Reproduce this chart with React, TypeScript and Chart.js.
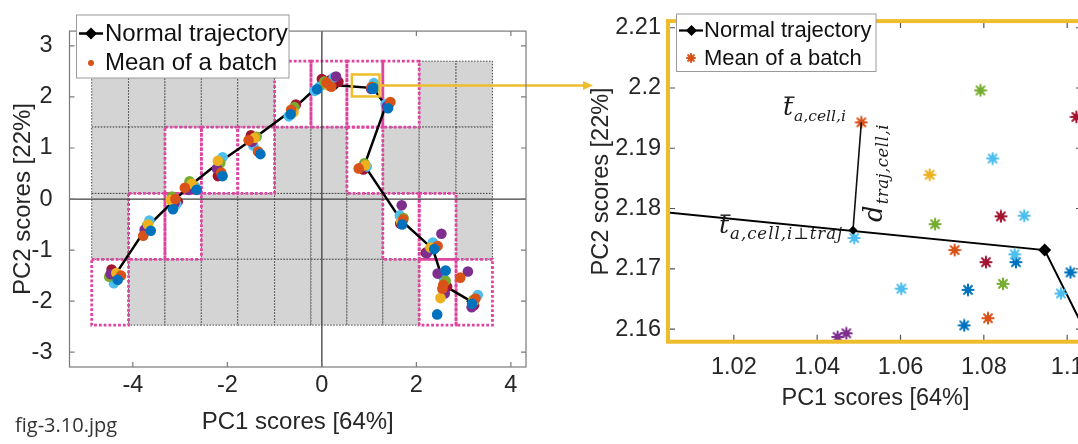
import React, { useEffect, useRef } from "react";
import { Chart, registerables } from "chart.js";

Chart.register(...registerables);

// ---------------- data ----------------
const mainXRange = [-5.34, 4.32];
const mainYRange = [-3.29, 3.29];
const mainXTicks = [-4, -2, 0, 2, 4];
const mainYTicks = [-3, -2, -1, 0, 1, 2, 3];

const zoomXRange = [1.0042, 1.1038];
const zoomYRange = [2.1579, 2.2111];
const zoomXTicks = [1.02, 1.04, 1.06, 1.08, 1.1];
const zoomYTicks = [2.16, 2.17, 2.18, 2.19, 2.2, 2.21];

// cell grid of the PC1/PC2 plane
const cellEdgesX = [-4.87, -4.09, -3.32, -2.55, -1.78, -1.0, -0.23, 0.53, 1.29, 2.06, 2.84, 3.61];
const cellEdgesY = [2.7, 1.41, 0.11, -1.18, -2.47];
const visitedCells = ["00000111100", "00111001000", "01100000110", "10000000011"];

// zoom window drawn on the left plot
const zoomBoxX = [0.635, 1.22];
const zoomBoxY = [2.01, 2.44];

// normal trajectory nodes [PC1, PC2]
const trajectoryNodes = [
  [-4.35, -1.45], [-3.7, -0.55], [-3.12, -0.02], [-2.78, 0.27], [-2.17, 0.72],
  [-1.45, 1.18], [-0.62, 1.75], [-0.05, 2.24], [0.3, 2.228], [1.0946, 2.1731],
  [1.35, 1.82], [0.9, 0.66], [1.68, -0.42], [2.35, -0.98], [2.6, -1.7], [3.15, -2.0],
];

// batch means, left plot (by colour)
const mainBlue = [[-4.32,-1.58],[-3.62,-0.62],[-3.15,-0.2],[-2.65,0.18],[-2.1,0.45],[-1.3,0.88],[-0.66,1.66],[-0.1,2.15],[1.4,1.78],[1.7,-0.5],[2.38,-0.98],[2.62,-1.4],[2.44,-2.26],[3.18,-2.05]];
const mainOrange = [[-4.25,-1.5],[-3.78,-0.72],[-3.1,0.0],[-2.9,0.22],[-2.13,0.52],[-1.55,1.15],[-1.35,0.93],[-0.65,1.75],[0.1,2.28],[0.2,2.2],[1.45,1.9],[0.78,0.6],[1.72,-0.4],[2.45,-0.92],[2.55,-1.75],[2.57,-1.68],[2.93,-1.54],[3.25,-1.95]];
const mainYellow = [[-4.35,-1.45],[-3.68,-0.5],[-3.2,-0.02],[-2.75,0.3],[-2.2,0.75],[-1.42,1.2],[-0.6,1.7],[0.15,2.22],[0.92,0.66],[1.68,-0.45],[2.3,-0.95],[2.51,-1.94],[3.22,-2.0]];
const mainPurple = [[-4.47,-1.47],[-3.75,-0.6],[-3.12,-0.08],[-2.82,0.18],[-2.22,0.6],[-1.48,1.12],[-0.62,1.72],[0.3,2.4],[1.38,1.82],[0.85,0.62],[1.69,-0.12],[2.53,-0.68],[2.22,-1.06],[2.45,-1.46],[2.6,-1.85],[3.09,-1.42],[3.17,-2.12]];
const mainGreen = [[-4.5,-1.52],[-3.7,-0.52],[-3.17,0.05],[-2.8,0.35],[-2.15,0.7],[-1.38,1.22],[-0.58,1.8],[0.05,2.3],[0.08,2.25],[0.9,0.7],[1.73,-0.37],[2.28,-1.0],[2.62,-1.6],[3.2,-1.98]];
const mainLightBlue = [[-4.4,-1.65],[-3.65,-0.42],[-3.08,-0.1],[-2.68,0.24],[-2.1,0.82],[-1.45,1.05],[-0.7,1.62],[-0.15,2.12],[-0.05,2.2],[0.25,2.38],[1.1,2.27],[1.35,1.86],[0.95,0.64],[1.65,-0.32],[2.35,-0.85],[2.58,-1.55],[3.3,-1.88]];
const mainRed = [[-4.45,-1.38],[-3.72,-0.58],[-3.05,-0.05],[-2.7,0.2],[-2.2,0.45],[-1.5,1.25],[-0.55,1.85],[0.0,2.35],[0.35,2.3],[0.18,2.33],[1.42,1.86],[0.88,0.58],[1.66,-0.48],[2.2,-1.05],[2.65,-1.72],[2.58,-1.8],[3.22,-2.08]];

// batch means inside the zoomed cell (by colour)
const zoomGreen = [[1.0792,2.1996],[1.0683,2.1774],[1.0846,2.1675]];
const zoomOrange = [[1.0506,2.1943],[1.073,2.1731],[1.081,2.1618]];
const zoomRed = [[1.1022,2.1952],[1.0841,2.1787],[1.0805,2.1711]];
const zoomLightBlue = [[1.0821,2.1883],[1.0897,2.1788],[1.0489,2.1751],[1.0874,2.1724],[1.0602,2.1667],[1.0985,2.1659]];
const zoomYellow = [[1.067,2.1856]];
const zoomBlue = [[1.0877,2.1711],[1.0762,2.1665],[1.0753,2.1606],[1.1008,2.1694]];
const zoomPurple = [[1.047,2.1593],[1.0449,2.1587]];

// the highlighted batch mean and its projection on the trajectory
const batchMean = [1.0506, 2.1943];
const batchProjection = [1.0486, 2.1764];

// ---------------- styling ----------------
const FONT = "'Liberation Sans', Arial, Helvetica, sans-serif";
const MATH = "'DejaVu Serif', 'Liberation Serif', serif";
const INK = "#262626";
const YELLOW = "#eebd2c";
const PINK = "#de45a0";
const C = {
  blue: "#0072BD", orange: "#D95319", yellow: "#EDB120", purple: "#7E2F8E",
  green: "#77AC30", lightBlue: "#4DBEEE", red: "#A2142F",
};

const toXY = (arr: number[][]) => arr.map(([x, y]) => ({ x, y }));
const fmt = (v: number) => String(Number(v.toFixed(4)));

function drawMath(ctx: CanvasRenderingContext2D, x: number, y: number, main: string, sub: string, size: number, subSize: number, bar: boolean, spacing: number) {
  ctx.textAlign = "left";
  ctx.textBaseline = "alphabetic";
  ctx.font = `italic ${size}px ${MATH}`;
  ctx.fillText(main, x, y);
  const w = ctx.measureText(main).width;
  if (bar) ctx.fillRect(x + 1.5, y - size * 0.74, w, 1.4);
  ctx.font = `italic ${subSize}px ${MATH}`;
  (ctx as any).letterSpacing = `${spacing}px`;
  ctx.fillText(sub, x + w + 1, y + subSize * 0.38);
  (ctx as any).letterSpacing = "0px";
}

function diamond(ctx: CanvasRenderingContext2D, x: number, y: number, r: number) {
  ctx.beginPath();
  ctx.moveTo(x, y - r);
  ctx.lineTo(x + r, y);
  ctx.lineTo(x, y + r);
  ctx.lineTo(x - r, y);
  ctx.closePath();
  ctx.fill();
}

function drawStar(ctx: CanvasRenderingContext2D, x: number, y: number, r: number, color: string) {
  ctx.strokeStyle = color;
  ctx.fillStyle = color;
  ctx.lineWidth = 2;
  ctx.lineCap = "round";
  ctx.beginPath();
  for (let i = 0; i < 4; i++) {
    const a = (i * Math.PI) / 4;
    ctx.moveTo(x - Math.cos(a) * r, y - Math.sin(a) * r);
    ctx.lineTo(x + Math.cos(a) * r, y + Math.sin(a) * r);
  }
  ctx.stroke();
  ctx.beginPath();
  ctx.arc(x, y, r * 0.6, 0, Math.PI * 2);
  ctx.fill();
}

function starMarker(color: string) {
  const c = document.createElement("canvas");
  c.width = 14;
  c.height = 14;
  const g = c.getContext("2d") as CanvasRenderingContext2D;
  drawStar(g, 7, 7, 5.6, color);
  return c;
}

const mainPlugin = {
  id: "mainDecor",
  beforeDatasetsDraw(chart: any) {
    const { ctx, chartArea: a, scales } = chart;
    const xs = scales.x, ys = scales.y;
    ctx.save();
    for (let r = 0; r < visitedCells.length; r++) {
      for (let c = 0; c < visitedCells[r].length; c++) {
        if (visitedCells[r][c] === "1") continue;
        const x0 = xs.getPixelForValue(cellEdgesX[c]);
        const x1 = xs.getPixelForValue(cellEdgesX[c + 1]);
        const y0 = ys.getPixelForValue(cellEdgesY[r]);
        const y1 = ys.getPixelForValue(cellEdgesY[r + 1]);
        ctx.fillStyle = "#d4d4d4";
        ctx.fillRect(x0, y0, x1 - x0, y1 - y0);
        ctx.strokeStyle = "#4a4a4a";
        ctx.lineWidth = 1;
        ctx.setLineDash([1.5, 1.5]);
        ctx.strokeRect(x0, y0, x1 - x0, y1 - y0);
      }
    }
    ctx.strokeStyle = PINK;
    ctx.lineWidth = 2.8;
    ctx.setLineDash([2.8, 2]);
    for (let r = 0; r < visitedCells.length; r++) {
      for (let c = 0; c < visitedCells[r].length; c++) {
        if (visitedCells[r][c] !== "1") continue;
        const x0 = xs.getPixelForValue(cellEdgesX[c]);
        const x1 = xs.getPixelForValue(cellEdgesX[c + 1]);
        const y0 = ys.getPixelForValue(cellEdgesY[r]);
        const y1 = ys.getPixelForValue(cellEdgesY[r + 1]);
        ctx.strokeRect(x0, y0, x1 - x0, y1 - y0);
      }
    }
    ctx.setLineDash([]);
    ctx.strokeStyle = "#404040";
    ctx.lineWidth = 1.3;
    const zx = xs.getPixelForValue(0), zy = ys.getPixelForValue(0);
    ctx.beginPath();
    ctx.moveTo(zx, a.top); ctx.lineTo(zx, a.bottom);
    ctx.moveTo(a.left, zy); ctx.lineTo(a.right, zy);
    ctx.stroke();
    ctx.restore();
  },
  afterDatasetsDraw(chart: any) {
    const { ctx, chartArea: a, scales } = chart;
    const xs = scales.x, ys = scales.y;
    ctx.save();
    const bx0 = xs.getPixelForValue(zoomBoxX[0]);
    const bx1 = xs.getPixelForValue(zoomBoxX[1]);
    const by0 = ys.getPixelForValue(zoomBoxY[1]);
    const by1 = ys.getPixelForValue(zoomBoxY[0]);
    ctx.strokeStyle = YELLOW;
    ctx.lineWidth = 2.5;
    ctx.strokeRect(bx0, by0, bx1 - bx0, by1 - by0);
    const ay = (by0 + by1) / 2;
    ctx.beginPath();
    ctx.moveTo(bx1, ay); ctx.lineTo(585, ay);
    ctx.stroke();
    ctx.fillStyle = YELLOW;
    ctx.beginPath();
    ctx.moveTo(593, ay); ctx.lineTo(583, ay - 4.5); ctx.lineTo(583, ay + 4.5);
    ctx.closePath();
    ctx.fill();
    ctx.strokeStyle = "#7a7a7a";
    ctx.lineWidth = 1.2;
    ctx.strokeRect(a.left, a.top, a.right - a.left, a.bottom - a.top);
    ctx.beginPath();
    for (const v of mainXTicks) {
      const p = xs.getPixelForValue(v);
      ctx.moveTo(p, a.bottom); ctx.lineTo(p, a.bottom - 5);
      ctx.moveTo(p, a.top); ctx.lineTo(p, a.top + 5);
    }
    for (const v of mainYTicks) {
      const p = ys.getPixelForValue(v);
      ctx.moveTo(a.left, p); ctx.lineTo(a.left + 5, p);
      ctx.moveTo(a.right, p); ctx.lineTo(a.right - 5, p);
    }
    ctx.stroke();
    // legend
    ctx.fillStyle = "#fff";
    ctx.fillRect(76.5, 15, 212.5, 63);
    ctx.strokeStyle = "#9a9a9a";
    ctx.lineWidth = 1;
    ctx.strokeRect(76.5, 15, 212.5, 63);
    ctx.strokeStyle = "#000";
    ctx.lineWidth = 2.5;
    ctx.beginPath(); ctx.moveTo(79, 33.5); ctx.lineTo(103, 33.5); ctx.stroke();
    ctx.fillStyle = "#000";
    diamond(ctx, 91, 33.5, 6);
    ctx.fillStyle = C.orange;
    ctx.beginPath(); ctx.arc(91, 63, 3, 0, Math.PI * 2); ctx.fill();
    ctx.fillStyle = "#111";
    ctx.font = `24px ${FONT}`;
    ctx.textAlign = "left";
    ctx.textBaseline = "middle";
    ctx.fillText("Normal trajectory", 105, 34);
    ctx.fillText("Mean of a batch", 105, 63.5);
    // axis titles
    ctx.fillStyle = INK;
    ctx.textBaseline = "alphabetic";
    ctx.textAlign = "center";
    ctx.fillText("PC1 scores [64%]", (a.left + a.right) / 2, 429);
    ctx.save();
    ctx.translate(29.5, (a.top + a.bottom) / 2);
    ctx.rotate(-Math.PI / 2);
    ctx.fillText("PC2 scores [22%]", 0, 0);
    ctx.restore();
    // caption
    ctx.textAlign = "left";
    ctx.fillStyle = "#333";
    ctx.font = `20px 'Open Sans', sans-serif`;
    ctx.fillText("fig-3.10.jpg", 15, 432);
    ctx.restore();
  },
};

const zoomPlugin = {
  id: "zoomDecor",
  afterDatasetsDraw(chart: any) {
    const { ctx, chartArea: a, scales } = chart;
    const xs = scales.x, ys = scales.y;
    ctx.save();
    ctx.strokeStyle = "#555";
    ctx.lineWidth = 1.2;
    ctx.beginPath();
    for (const v of zoomXTicks) {
      const p = xs.getPixelForValue(v);
      ctx.moveTo(p, a.bottom); ctx.lineTo(p, a.bottom - 7);
      ctx.moveTo(p, a.top); ctx.lineTo(p, a.top + 7);
    }
    for (const v of zoomYTicks) {
      const p = ys.getPixelForValue(v);
      ctx.moveTo(a.left, p); ctx.lineTo(a.left + 7, p);
      ctx.moveTo(a.right, p); ctx.lineTo(a.right - 7, p);
    }
    ctx.stroke();
    ctx.strokeStyle = YELLOW;
    ctx.lineWidth = 4;
    ctx.strokeRect(a.left, a.top, a.right - a.left, a.bottom - a.top);
    // legend
    ctx.fillStyle = "#fff";
    ctx.fillRect(96.5, 14, 199.5, 57.5);
    ctx.strokeStyle = "#9a9a9a";
    ctx.lineWidth = 1;
    ctx.strokeRect(96.5, 14, 199.5, 57.5);
    ctx.strokeStyle = "#000";
    ctx.lineWidth = 2.2;
    ctx.beginPath(); ctx.moveTo(99, 30.5); ctx.lineTo(123, 30.5); ctx.stroke();
    ctx.fillStyle = "#000";
    diamond(ctx, 111.5, 30.5, 5.5);
    drawStar(ctx, 111, 58, 4, C.orange);
    ctx.fillStyle = "#111";
    ctx.font = `22px ${FONT}`;
    ctx.textAlign = "left";
    ctx.textBaseline = "middle";
    ctx.fillText("Normal trajectory", 124, 31);
    ctx.fillText("Mean of a batch", 124, 58.5);
    // math annotations
    ctx.fillStyle = "#1a1a1a";
    drawMath(ctx, 203, 115, "t", "a,cell,i", 25, 15.5, true, 0);
    drawMath(ctx, 139, 233, "t", "a,cell,i\u22A5traj", 25, 16.5, true, 1);
    ctx.save();
    ctx.translate(302, 222);
    ctx.rotate(-Math.PI / 2);
    drawMath(ctx, 0, 0, "d", "traj,cell,i", 26, 16.5, false, 0.5);
    ctx.restore();
    // axis titles
    ctx.fillStyle = INK;
    ctx.font = `23.5px ${FONT}`;
    ctx.textBaseline = "alphabetic";
    ctx.textAlign = "center";
    ctx.fillText("PC1 scores [64%]", (a.left + a.right) / 2, 405);
    ctx.save();
    ctx.translate(28, (a.top + a.bottom) / 2);
    ctx.rotate(-Math.PI / 2);
    ctx.fillText("PC2 scores [22%]", 0, 0);
    ctx.restore();
    ctx.restore();
  },
};

function scatterSet(label: string, data: number[][], color: string, radius: number) {
  return {
    label,
    data: toXY(data),
    pointRadius: radius,
    pointBackgroundColor: color,
    pointBorderColor: color,
    pointBorderWidth: 0,
    order: 1,
  };
}

function starSet(label: string, data: number[][], color: string) {
  return {
    label,
    data: toXY(data),
    pointStyle: starMarker(color),
    pointRadius: 6,
    order: 1,
    clip: 8,
  };
}

function axisOptions(range: number[], tickValues: number[], size: number, pad: number, fit: (s: any) => void) {
  return {
    type: "linear" as const,
    min: range[0],
    max: range[1],
    grid: { display: false, drawTicks: false },
    border: { display: false },
    ticks: {
      color: INK,
      padding: pad,
      font: { family: FONT, size },
      callback: (v: number) => fmt(v),
    },
    afterBuildTicks: (s: any) => {
      s.ticks = tickValues.map((v) => ({ value: v }));
    },
    afterFit: fit,
  };
}

export default function App() {
  const leftRef = useRef<HTMLCanvasElement>(null);
  const rightRef = useRef<HTMLCanvasElement>(null);

  useEffect(() => {
    const R = 5.3;
    const mainChart = new Chart(leftRef.current as HTMLCanvasElement, {
      type: "scatter",
      data: {
        datasets: [
          scatterSet("b1", mainBlue.concat(zoomBlue), C.blue, R),
          scatterSet("b2", mainOrange.concat(zoomOrange), C.orange, R),
          scatterSet("b3", mainYellow.concat(zoomYellow), C.yellow, R),
          scatterSet("b4", mainPurple.concat(zoomPurple), C.purple, R),
          scatterSet("b5", mainGreen.concat(zoomGreen), C.green, R),
          scatterSet("b6", mainLightBlue.concat(zoomLightBlue), C.lightBlue, R),
          scatterSet("b7", mainRed.concat(zoomRed), C.red, R),
          {
            label: "Normal trajectory",
            data: toXY(trajectoryNodes),
            showLine: true,
            borderColor: "#000",
            borderWidth: 2.5,
            pointStyle: "rectRot",
            pointRadius: 4.5,
            pointBackgroundColor: "#000",
            pointBorderWidth: 0,
            order: 5,
            clip: 0,
          },
        ] as any,
      },
      options: {
        animation: false,
        responsive: false,
        devicePixelRatio: 1,
        events: [],
        layout: { padding: { left: 0, top: 10, right: 74, bottom: 0 } },
        plugins: { legend: { display: false }, tooltip: { enabled: false } },
        scales: {
          x: axisOptions(mainXRange, mainXTicks, 23.5, 4, (s: any) => { s.height = 77; }),
          y: axisOptions(mainYRange, mainYTicks, 23.5, 17, (s: any) => { s.width = 69.5; }),
        } as any,
      },
      plugins: [mainPlugin],
    });

    const zoomChart = new Chart(rightRef.current as HTMLCanvasElement, {
      type: "scatter",
      data: {
        datasets: [
          starSet("z1", zoomGreen, C.green),
          starSet("z2", zoomOrange, C.orange),
          starSet("z3", zoomRed, C.red),
          starSet("z4", zoomLightBlue, C.lightBlue),
          starSet("z5", zoomYellow, C.yellow),
          starSet("z6", zoomBlue, C.blue),
          starSet("z7", zoomPurple, C.purple),
          {
            label: "distance",
            data: toXY([batchMean, batchProjection]),
            showLine: true,
            borderColor: "#111",
            borderWidth: 1.6,
            pointStyle: "rectRot",
            pointRadius: [0, 4.5],
            pointBackgroundColor: "#000",
            pointBorderWidth: 0,
            order: 0,
            clip: 0,
          },
          {
            label: "Normal trajectory",
            data: toXY(trajectoryNodes),
            showLine: true,
            borderColor: "#000",
            borderWidth: 2,
            pointStyle: "rectRot",
            pointRadius: 6.5,
            pointBackgroundColor: "#000",
            pointBorderWidth: 0,
            order: 5,
            clip: 0,
          },
        ] as any,
      },
      options: {
        animation: false,
        responsive: false,
        devicePixelRatio: 1,
        events: [],
        layout: { padding: { left: 0, top: 8.3, right: 57, bottom: 0 } },
        plugins: { legend: { display: false }, tooltip: { enabled: false } },
        scales: {
          x: axisOptions(zoomXRange, zoomXTicks, 23.5, 12, (s: any) => { s.height = 102.3; }),
          y: axisOptions(zoomYRange, zoomYTicks, 23.5, 7, (s: any) => { s.width = 88; }),
        } as any,
      },
      plugins: [zoomPlugin],
    });

    return () => {
      mainChart.destroy();
      zoomChart.destroy();
    };
  }, []);

  return (
    <div style={{ position: "fixed", left: 0, top: 0, width: 1078, height: 444, overflow: "hidden", background: "#fff" }}>
      <canvas ref={leftRef} width={600} height={444} style={{ position: "absolute", left: 0, top: 0 }} />
      <canvas ref={rightRef} width={560} height={444} style={{ position: "absolute", left: 580, top: 0 }} />
    </div>
  );
}
